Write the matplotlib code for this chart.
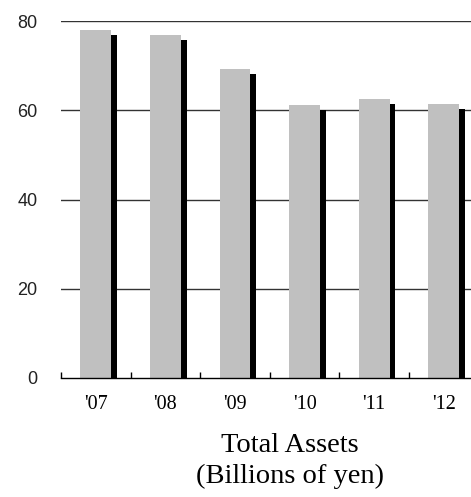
import matplotlib
matplotlib.use("Agg")
import matplotlib.pyplot as plt
import matplotlib.patheffects as pe

years = ["'07", "'08", "'09", "'10", "'11", "'12"]
total_assets = [78.0, 76.9, 69.2, 61.1, 62.6, 61.4]
y_ticks = [0, 20, 40, 60, 80]

W, H, DPI = 471, 497, 100
fig = plt.figure(figsize=(W / DPI, H / DPI), dpi=DPI)

# axes box in pixels: left 61, bottom 378 (from top), top 21, right ~478
left_px, right_px, top_px, bottom_px = 61, 478.6, 21, 378
ax = fig.add_axes([left_px / W, (H - bottom_px) / H,
                   (right_px - left_px) / W, (bottom_px - top_px) / H])

x = range(len(years))
shadow = pe.SimplePatchShadow(offset=(4.3, -3.6), shadow_rgbFace="black", alpha=1.0)
ax.bar(x, total_assets, width=0.44, color="#c0c0c0", zorder=2,
       path_effects=[shadow, pe.Normal()])

ax.set_xlim(-0.5, len(years) - 0.5)
ax.set_ylim(0, 80)

for v in y_ticks[1:]:
    ax.axhline(v, color="#333333", linewidth=1.0, zorder=1)

for s in ["top", "right", "left"]:
    ax.spines[s].set_visible(False)
ax.spines["bottom"].set_color("black")
ax.spines["bottom"].set_linewidth(1.0)
ax.spines["bottom"].set_zorder(3)

ax.set_yticks(y_ticks)
ax.set_yticklabels([str(v) for v in y_ticks], fontsize=13, family="Liberation Sans",
                   color="#222222")
ax.tick_params(axis="y", length=0, pad=17)

# boundary tick marks on the x axis, labels at bar centers
ax.set_xticks([i - 0.5 for i in range(len(years))])
ax.set_xticklabels([])
ax.tick_params(axis="x", which="major", direction="in", length=4, width=1, color="black")
ax.set_xticks(list(x), minor=True)
ax.set_xticklabels(years, minor=True, fontsize=14.5, family="Liberation Serif")
ax.tick_params(axis="x", which="minor", length=0, pad=12)

fig.text(290 / W, 1 - 446 / H, "Total Assets", ha="center", va="center",
         fontsize=20.5, family="Liberation Serif")
fig.text(290 / W, 1 - 476 / H, "(Billions of yen)", ha="center", va="center",
         fontsize=20.5, family="Liberation Serif")

fig.savefig("out.png", dpi=DPI)
